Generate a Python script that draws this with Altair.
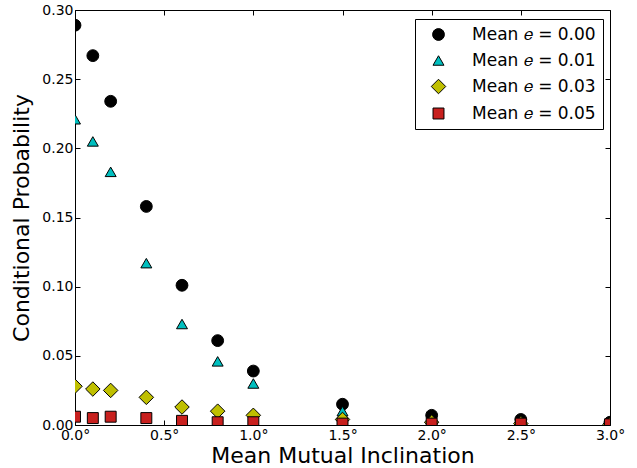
import altair as alt
import pandas as pd

incl = [0.0, 0.1, 0.2, 0.4, 0.6, 0.8, 1.0, 1.5, 2.0, 2.5, 3.0]
p_e000 = [0.289, 0.267, 0.234, 0.158, 0.101, 0.061, 0.039, 0.015, 0.007, 0.004, 0.002]
p_e001 = [0.221, 0.205, 0.183, 0.117, 0.073, 0.046, 0.030, 0.010, 0.004, 0.002, 0.001]
p_e003 = [0.028, 0.026, 0.025, 0.020, 0.013, 0.010, 0.007, 0.004, 0.002, 0.001, 0.0005]
p_e005 = [0.006, 0.005, 0.006, 0.005, 0.003, 0.002, 0.002, 0.001, 0.001, 0.001, 0.0005]

series = ["Mean 𝑒 = 0.00", "Mean 𝑒 = 0.01", "Mean 𝑒 = 0.03", "Mean 𝑒 = 0.05"]
colors = ["#000000", "#00BFBF", "#BFBF00", "#C8201E"]
shapes = ["circle", "triangle-up", "diamond", "square"]
sizes = [140, 120, 210, 120]

x_ticks = [0.0, 0.5, 1.0, 1.5, 2.0, 2.5, 3.0]
y_ticks = [0.0, 0.05, 0.10, 0.15, 0.20, 0.25, 0.30]

rows = []
for s, vals in zip(series, [p_e000, p_e001, p_e003, p_e005]):
    for x, v in zip(incl, vals):
        rows.append({"incl": x, "p": v, "series": s})
df = pd.DataFrame(rows)

xs = alt.Scale(domain=[0, 3], nice=False, zero=False)
ys = alt.Scale(domain=[0, 0.30], nice=False)
FONT = "DejaVu Sans"

leg = alt.Legend(title=None, orient="none", legendX=340, legendY=9)

points = alt.Chart(df).mark_point(
    filled=True, stroke="black", strokeWidth=1, opacity=1, clip=True
).encode(
    x=alt.X("incl:Q", scale=xs, axis=alt.Axis(
        values=x_ticks, labelExpr="format(datum.value, '.1f') + '°'",
        title="Mean Mutual Inclination", offset=-5, tickSize=5, domain=False,
        grid=False, labelPadding=3, titlePadding=3, labelOverlap=False, labelBound=False,
        labelFlush=False)),
    y=alt.Y("p:Q", scale=ys, axis=alt.Axis(
        values=y_ticks, format=".2f", title="Conditional Probability",
        offset=-5, tickSize=5, domain=False, grid=False, labelPadding=2,
        titlePadding=8, labelOverlap=False, labelBound=False, labelFlush=False)),
    color=alt.Color("series:N", scale=alt.Scale(domain=series, range=colors), legend=leg),
    shape=alt.Shape("series:N", scale=alt.Scale(domain=series, range=shapes), legend=leg),
    size=alt.Size("series:N", scale=alt.Scale(type="ordinal", domain=series, range=sizes), legend=None),
)

mirror = alt.Chart(df).mark_point(opacity=0).encode(
    x=alt.X("incl:Q", scale=xs, axis=alt.Axis(
        orient="top", values=x_ticks, labels=False, title=None, offset=-5,
        tickSize=5, domain=False, grid=False)),
    y=alt.Y("p:Q", scale=ys, axis=alt.Axis(
        orient="right", values=y_ticks, labels=False, title=None, offset=-5,
        tickSize=5, domain=False, grid=False)),
)

chart = alt.layer(points, mirror).resolve_axis(
    x="independent", y="independent"
).properties(
    width=535, height=415,
    autosize=alt.AutoSizeParams(type="none"),
    padding={"left": 75, "top": 10, "right": 27, "bottom": 43},
).configure_view(
    stroke="black", strokeWidth=1
).configure_axis(
    labelFont=FONT, labelFontSize=14, labelColor="black",
    titleFont=FONT, titleFontSize=22, titleFontWeight="normal", titleColor="black",
    tickColor="black", tickWidth=1,
).configure_legend(
    strokeColor="black", fillColor="white", padding=7, cornerRadius=0,
    labelFont=FONT, labelFontSize=17, labelColor="black",
    symbolSize=90, symbolStrokeColor="black", symbolStrokeWidth=1,
    rowPadding=8, labelOffset=25, symbolOffset=8,
)

chart.save("out.html", embed_options={"renderer": "svg", "actions": False})
